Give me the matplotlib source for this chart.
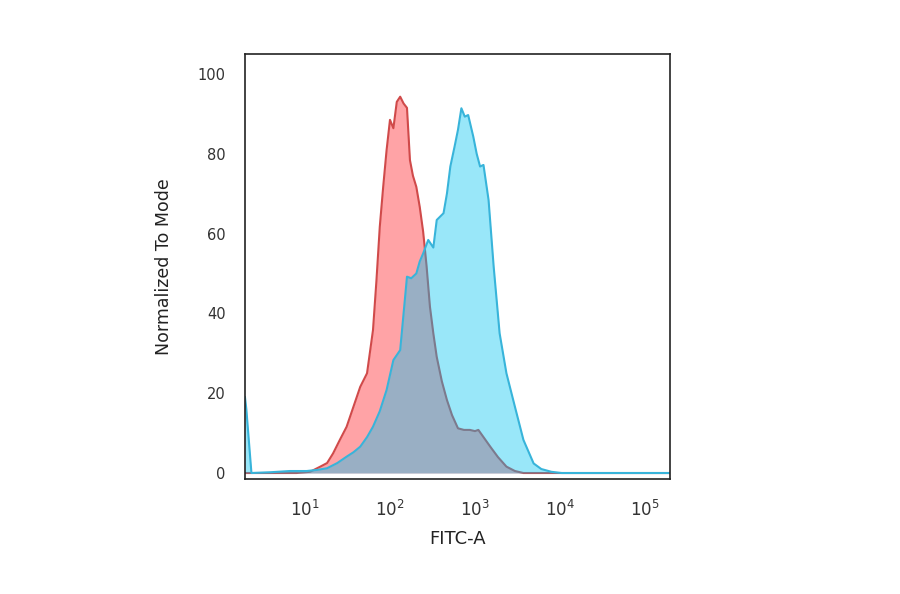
import numpy as np
import matplotlib.pyplot as plt

# log10 of FITC-A and normalized-to-mode counts
red_log = [0.30, 0.90, 1.06, 1.18, 1.26, 1.33, 1.41, 1.49, 1.57, 1.65, 1.73,
           1.80, 1.84, 1.88, 1.92, 1.96, 2.00, 2.04, 2.08, 2.12, 2.16, 2.20,
           2.235, 2.27, 2.31, 2.35, 2.39, 2.43, 2.47, 2.51, 2.55, 2.61, 2.67,
           2.73, 2.80, 2.87, 2.94, 3.00, 3.04, 3.10, 3.18, 3.27, 3.37, 3.47,
           3.57, 5.30]
red_val = [0, 0, 0.3, 1.6, 2.5, 4.9, 8.3, 11.6, 16.6, 21.6, 25.0,
           35.8, 48.0, 61.7, 71.7, 80.9, 88.5, 86.4, 93.0, 94.3, 92.6, 91.5,
           78.4, 74.5, 71.7, 66.7, 60.5, 52.0, 41.7, 35.0, 29.1, 23.0, 18.3,
           14.5, 11.2, 10.8, 10.8, 10.5, 10.8, 9.0, 6.6, 4.0, 1.6, 0.5,
           0, 0]

blue_log = [0.294, 0.31, 0.37, 0.60, 0.82, 1.02, 1.15, 1.26, 1.38, 1.49,
            1.57, 1.65, 1.73, 1.80, 1.88, 1.96, 2.04, 2.12, 2.16, 2.20, 2.25,
            2.31, 2.35, 2.39, 2.45, 2.51, 2.55, 2.63, 2.67, 2.71, 2.76, 2.80,
            2.84, 2.88, 2.92, 2.98, 3.02, 3.06, 3.10, 3.16, 3.22, 3.29, 3.37,
            3.47, 3.57, 3.69, 3.78, 3.90, 4.02, 5.30]
blue_val = [19, 16, 0, 0.2, 0.5, 0.5, 0.8, 1.2, 2.5, 4.1,
            5.2, 6.6, 9.0, 11.6, 15.5, 20.8, 28.3, 30.8, 40.0, 49.2, 48.8,
            50.0, 53.0, 55.0, 58.4, 56.5, 63.4, 65.1, 70.0, 76.8, 81.8, 86.0,
            91.4, 89.3, 89.7, 84.3, 80.0, 76.8, 77.2, 68.4, 51.7, 35.0, 25.0,
            16.6, 8.3, 2.4, 1.0, 0.3, 0, 0]

x_ticks = [10, 100, 1000, 10000, 100000]
x_labels = ['$10^{1}$', '$10^{2}$', '$10^{3}$', '$10^{4}$', '$10^{5}$']
y_ticks = [0, 20, 40, 60, 80, 100]

fig = plt.figure(figsize=(9, 5.94), dpi=100)
ax = fig.add_axes([0.2722, 0.1936, 0.4722, 0.7155])

rx = 10 ** np.array(red_log)
bx = 10 ** np.array(blue_log)

# red underneath, translucent blue on top so the overlap turns grey-blue
ax.fill_between(rx, red_val, 0, color='#ffa3a6', lw=0, zorder=1)
ax.plot(rx, red_val, color='#d04a4a', lw=1.5, zorder=2)
ax.fill_between(bx, blue_val, 0, color='#00c3f2', alpha=0.4, lw=0, zorder=3)
ax.plot(bx, blue_val, color='#38b4da', lw=1.5, zorder=4)

ax.set_xscale('log')
ax.set_xlim(10 ** 0.294, 10 ** 5.294)
ax.set_ylim(-1.5, 105)
ax.set_xticks(x_ticks)
ax.set_xticklabels(x_labels)
ax.minorticks_off()
ax.set_yticks(y_ticks)
ax.tick_params(length=0, colors='#333333')
ax.tick_params(axis='y', pad=14, labelsize=10.5)
ax.tick_params(axis='x', pad=15, labelsize=12)
for s in ax.spines.values():
    s.set_color('#222222')
    s.set_linewidth(1.2)
    s.set_zorder(5)

ax.set_xlabel('FITC-A', fontsize=13, color='#222222', labelpad=7)
ax.set_ylabel('Normalized To Mode', fontsize=12.5, color='#222222', labelpad=18)

fig.savefig('out.png', dpi=100)
